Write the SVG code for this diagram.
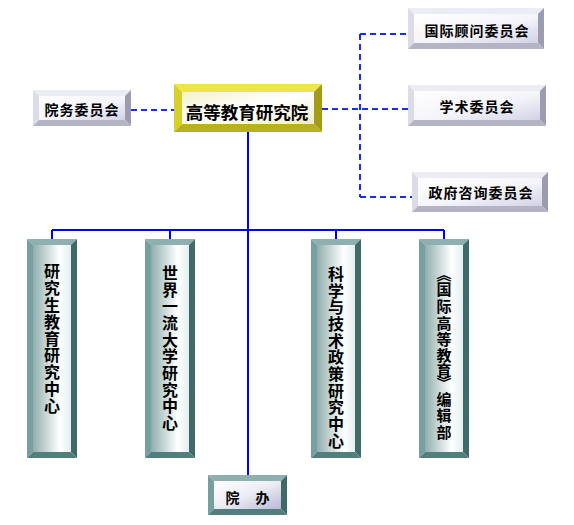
<svg xmlns="http://www.w3.org/2000/svg" width="574" height="525" viewBox="0 0 574 525">
<style>
.solid{stroke:#0000ff;stroke-width:2;fill:none}
.dash{stroke:#1a2cf0;stroke-width:2;fill:none;stroke-dasharray:6 4}
.yt{fill:#ece64a}.yl{fill:#d6cf2c}.yr{fill:#a49c12}.yb{fill:#b8b01c}
.gt{fill:#ececf4}.gl{fill:#dcdce8}.gr{fill:#9c9cb0}.gb{fill:#b4b4c6}
.tt{fill:#8eb0b0}.tl{fill:#76a0a0}.tr{fill:#3e6a6a}.tb{fill:#527e7e}
.lbl{font-family:"Noto Sans CJK SC","Noto Sans CJK TC",sans-serif;font-weight:bold;fill:#000;text-anchor:middle;dominant-baseline:central}
.sm{font-size:14px;letter-spacing:1px}
.vt{font-size:16px}
</style>
<defs>
<linearGradient id="fy" x1="0" y1="0" x2="1" y2="1">
<stop offset="0" stop-color="#f4f2cc"/><stop offset="0.5" stop-color="#ffffff"/><stop offset="1" stop-color="#efecc4"/>
</linearGradient>
<linearGradient id="fg" x1="0" y1="0" x2="1" y2="1">
<stop offset="0" stop-color="#ffffff"/><stop offset="0.55" stop-color="#f4f4fa"/><stop offset="1" stop-color="#d2d2e6"/>
</linearGradient>
<linearGradient id="ft" x1="0" y1="0" x2="1" y2="0">
<stop offset="0" stop-color="#90aeae"/><stop offset="0.7" stop-color="#ffffff"/><stop offset="1" stop-color="#e4eeee"/>
</linearGradient>
<linearGradient id="fo" x1="0" y1="0" x2="1" y2="1">
<stop offset="0" stop-color="#ffffff"/><stop offset="0.5" stop-color="#ececf4"/><stop offset="1" stop-color="#b8b8d4"/>
</linearGradient>
</defs>

<g id="connectors">
<path class="dash" d="M131 110 H174"/>
<path class="dash" d="M322 109 H408 M360 34 V197 M360 34 H408 M360 197 H412"/>
<path class="solid" d="M248 132 V475 M52 230 H444 M52 230 V239 M170 230 V239 M336 230 V239 M444 230 V239"/>
</g>

<g id="main">
<polygon class="yt" points="174,84 322,84 314,92 182,92"/>
<polygon class="yl" points="174,84 182,92 182,124 174,132"/>
<polygon class="yr" points="322,84 322,132 314,124 314,92"/>
<polygon class="yb" points="174,132 322,132 314,124 182,124"/>
<rect x="182" y="92" width="132" height="32" fill="url(#fy)"/>
<text class="lbl" x="247" y="111" font-size="17.5">高等教育研究院</text>
</g>

<g id="yuanwu">
<polygon class="gt" points="33,90 131,90 125,96 39,96"/>
<polygon class="gl" points="33,90 39,96 39,120 33,126"/>
<polygon class="gr" points="131,90 131,126 125,120 125,96"/>
<polygon class="gb" points="33,126 131,126 125,120 39,120"/>
<rect x="39" y="96" width="86" height="24" fill="url(#fg)"/>
<text class="lbl sm" x="82" y="109">院务委员会</text>
</g>

<g id="guoji">
<polygon class="gt" points="408,8 544,8 538,14 414,14"/>
<polygon class="gl" points="408,8 414,14 414,43 408,49"/>
<polygon class="gr" points="544,8 544,49 538,43 538,14"/>
<polygon class="gb" points="408,49 544,49 538,43 414,43"/>
<rect x="414" y="14" width="124" height="29" fill="url(#fg)"/>
<text class="lbl sm" x="477" y="30">国际顾问委员会</text>
</g>

<g id="xueshu">
<polygon class="gt" points="408,85 546,85 540,91 414,91"/>
<polygon class="gl" points="408,85 414,91 414,120 408,126"/>
<polygon class="gr" points="546,85 546,126 540,120 540,91"/>
<polygon class="gb" points="408,126 546,126 540,120 414,120"/>
<rect x="414" y="91" width="126" height="29" fill="url(#fg)"/>
<text class="lbl sm" x="477" y="106">学术委员会</text>
</g>

<g id="zhengfu">
<polygon class="gt" points="412,172 548,172 542,178 418,178"/>
<polygon class="gl" points="412,172 418,178 418,206 412,212"/>
<polygon class="gr" points="548,172 548,212 542,206 542,178"/>
<polygon class="gb" points="412,212 548,212 542,206 418,206"/>
<rect x="418" y="178" width="124" height="28" fill="url(#fg)"/>
<text class="lbl sm" x="481" y="192">政府咨询委员会</text>
</g>

<g id="yanjiusheng">
<polygon class="tt" points="27,239 77,239 71,245 33,245"/>
<polygon class="tl" points="27,239 33,245 33,452 27,458"/>
<polygon class="tr" points="77,239 77,458 71,452 71,245"/>
<polygon class="tb" points="27,458 77,458 71,452 33,452"/>
<rect x="33" y="245" width="38" height="207" fill="url(#ft)"/>
<text class="lbl vt" x="52 52 52 52 52 52 52 52 52" y="270 287 304 321 338 354 371 388 405">研究生教育研究中心</text>
</g>

<g id="shijie">
<polygon class="tt" points="145,239 195,239 189,245 151,245"/>
<polygon class="tl" points="145,239 151,245 151,452 145,458"/>
<polygon class="tr" points="195,239 195,458 189,452 189,245"/>
<polygon class="tb" points="145,458 195,458 189,452 151,452"/>
<rect x="151" y="245" width="38" height="207" fill="url(#ft)"/>
<text class="lbl vt" x="170 170 170 170 170 170 170 170 170 170" y="272 289 305 322 339 355 372 389 405 422">世界一流大学研究中心</text>
</g>

<g id="keji">
<polygon class="tt" points="311,239 361,239 355,245 317,245"/>
<polygon class="tl" points="311,239 317,245 317,452 311,458"/>
<polygon class="tr" points="361,239 361,458 355,452 355,245"/>
<polygon class="tb" points="311,458 361,458 355,452 317,452"/>
<rect x="317" y="245" width="38" height="207" fill="url(#ft)"/>
<text class="lbl vt" x="336 336 336 336 336 336 336 336 336 336 336" y="273 290 306 323 340 356 373 390 406 423 440">科学与技术政策研究中心</text>
</g>

<g id="bianjibu">
<polygon class="tt" points="419,239 469,239 463,245 425,245"/>
<polygon class="tl" points="419,239 425,245 425,452 419,458"/>
<polygon class="tr" points="469,239 469,458 463,452 463,245"/>
<polygon class="tb" points="419,458 469,458 463,452 425,452"/>
<rect x="425" y="245" width="38" height="207" fill="url(#ft)"/>
<text class="lbl" font-size="15" x="444 444 444 444 444 444 444 444 444 444 444" y="273 288 305 322 338 354 369 381 398 414 431">︽国际高等教育︾编辑部</text>
</g>

<g id="yuanban">
<polygon class="tt" points="208,475 287,475 281,481 214,481"/>
<polygon class="tl" points="208,475 214,481 214,509 208,515"/>
<polygon class="tr" points="287,475 287,515 281,509 281,481"/>
<polygon class="tb" points="208,515 287,515 281,509 214,509"/>
<rect x="214" y="481" width="67" height="28" fill="url(#fo)"/>
<text class="lbl sm" x="233 263" y="497 497">院办</text>
</g>
</svg>
